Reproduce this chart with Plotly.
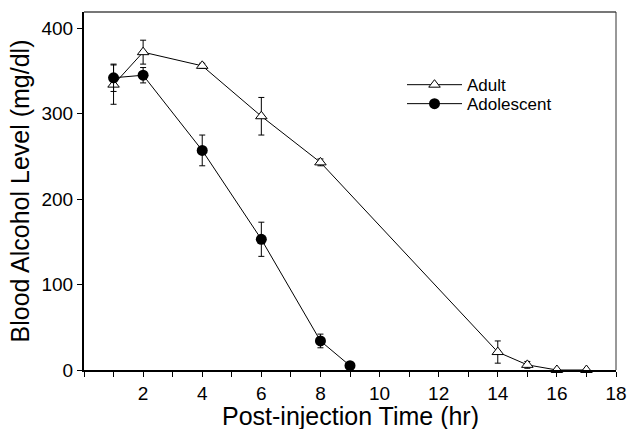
import plotly.graph_objects as go

adult_x = [1, 2, 4, 6, 8, 14, 15, 16, 17]
adult_y = [334, 372, 356, 297, 243, 21, 6, 0, 0]
adult_err = [23, 14, 3, 22, 4, 13, 4, 0, 0]

adol_x = [1, 2, 4, 6, 8, 9]
adol_y = [342, 345, 257, 153, 34, 5]
adol_err = [16, 9, 18, 20, 8, 2]

x_ticks = [2, 4, 6, 8, 10, 12, 14, 16, 18]
y_ticks = [0, 100, 200, 300, 400]

FONT = "Liberation Sans, Arial, Helvetica, sans-serif"

fig = go.Figure()
fig.add_trace(go.Scatter(
    x=adult_x, y=adult_y, name="Adult", mode="lines+markers",
    line=dict(color="black", width=1),
    marker=dict(symbol="triangle-up", size=10, color="white",
                line=dict(color="black", width=1)),
    error_y=dict(type="data", array=adult_err, visible=True,
                 color="black", thickness=1, width=3),
    cliponaxis=False, legend="legend",
))
fig.add_trace(go.Scatter(
    x=adol_x, y=adol_y, name="Adolescent", mode="lines+markers",
    line=dict(color="black", width=1),
    marker=dict(symbol="circle", size=11, color="black",
                line=dict(color="black", width=0)),
    error_y=dict(type="data", array=adol_err, visible=True,
                 color="black", thickness=1, width=3),
    cliponaxis=False, legend="legend2",
))

leg_common = dict(xanchor="left", yanchor="top", bgcolor="rgba(0,0,0,0)",
                  font=dict(size=17, family=FONT), itemwidth=55)

fig.update_layout(
    width=628, height=429,
    margin=dict(l=84, r=12, t=12, b=59),
    paper_bgcolor="white", plot_bgcolor="white",
    font=dict(family=FONT, color="black", size=19),
    showlegend=True,
    legend=dict(x=(402 - 84) / 532, y=0.846, **leg_common),
    legend2=dict(x=(402 - 84) / 532, y=0.793, **leg_common),
    xaxis=dict(
        range=[0, 18], tickvals=x_ticks, ticktext=[str(v) for v in x_ticks],
        ticks="outside", ticklen=5, tickwidth=1, tickcolor="black",
        minor=dict(ticks="outside", ticklen=5, tickwidth=1, tickcolor="black", dtick=1, tick0=0),
        showline=True, linecolor="black", linewidth=2, mirror=False,
        showgrid=False, zeroline=False, automargin=False,
        tickfont=dict(size=19),
    ),
    yaxis=dict(
        range=[0, 419], tickvals=y_ticks, ticktext=[str(v) for v in y_ticks],
        ticks="outside", ticklen=5, tickwidth=1, tickcolor="black",
        showline=True, linecolor="black", linewidth=2, mirror=False,
        showgrid=False, zeroline=False, automargin=False,
        tickfont=dict(size=19),
        title=dict(text="Blood Alcohol Level (mg/dl)", font=dict(size=25), standoff=5),
    ),
    annotations=[
        dict(text="Post-injection Time (hr)", xref="paper", yref="paper",
             x=0.5, y=0, xanchor="center", yanchor="top", yshift=-30,
             showarrow=False, font=dict(size=25, family=FONT, color="black")),
    ],
    shapes=[
        dict(type="line", xref="paper", yref="paper", x0=0, x1=1, y0=1, y1=1,
             line=dict(color="#777777", width=2)),
        dict(type="line", xref="paper", yref="paper", x0=1, x1=1, y0=0, y1=1,
             line=dict(color="#333333", width=1)),
    ],
)

fig.write_html("out.html")
